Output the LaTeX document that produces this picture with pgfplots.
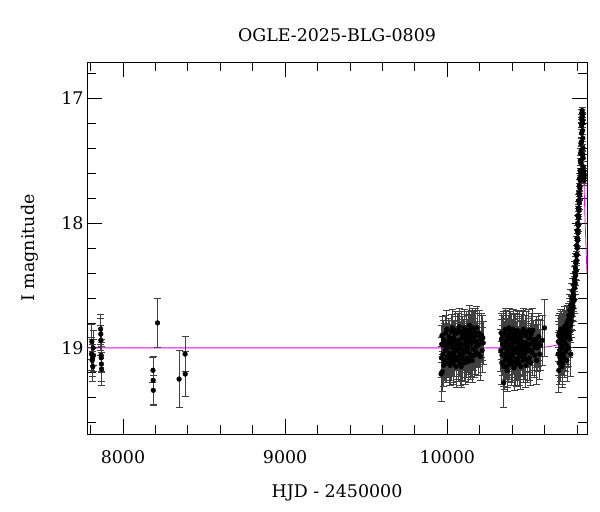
\documentclass[border=0pt]{standalone}
\usepackage{fontspec}
\setmainfont{DejaVu Serif}
\usepackage{pgfplots}
\pgfplotsset{compat=1.18}
\usepackage{pgfplotstable}
\definecolor{model}{RGB}{230,0,230}

\pgfplotstableread{
x y e
7806 19.05 0.13
7808 18.95 0.14
7810 19.10 0.13
7812 19.08 0.15
7814 19.15 0.12
7816 19.00 0.14
7818 19.06 0.13
7862 18.85 0.12
7863 18.89 0.13
7864 18.94 0.12
7865 19.06 0.13
7866 19.08 0.12
7867 19.13 0.14
7868 19.17 0.13
8185 19.18 0.10
8186 19.26 0.19
8187 19.34 0.12
8213 18.80 0.20
8346 19.25 0.23
8383 19.05 0.14
8384 19.21 0.18
}\seasonA

\pgfplotstableread{
x y e
9962 19.21 0.22
9964 19.08 0.16
9966 18.97 0.15
9968 18.90 0.15
9970 19.19 0.16
9973 19.05 0.14
9976 18.93 0.15
9978 19.14 0.17
9980 19.10 0.16
9982 18.95 0.15
9984 18.98 0.14
9986 19.12 0.16
9988 19.02 0.15
9991 18.88 0.14
9993 18.99 0.15
9995 19.12 0.16
9997 18.85 0.15
9999 19.00 0.15
10001 19.07 0.16
10003 18.95 0.14
10006 19.08 0.16
10008 18.97 0.15
10010 18.91 0.15
10012 19.13 0.17
10014 19.04 0.14
10016 18.93 0.15
10018 19.14 0.16
10021 18.96 0.15
10023 19.10 0.16
10025 18.87 0.14
10027 18.97 0.15
10029 19.06 0.16
10031 18.84 0.15
10033 19.00 0.15
10035 19.12 0.17
10037 18.92 0.14
10040 19.11 0.17
10042 18.94 0.15
10044 19.03 0.15
10046 19.07 0.16
10048 18.89 0.14
10050 18.86 0.15
10052 18.98 0.15
10054 19.15 0.17
10056 19.09 0.16
10058 19.00 0.15
10060 18.94 0.15
10062 18.88 0.16
10064 19.02 0.15
10066 19.10 0.17
10068 18.86 0.14
10070 18.95 0.15
10072 19.07 0.16
10074 18.83 0.15
10076 18.99 0.15
10078 19.05 0.16
10080 19.13 0.17
10082 18.97 0.16
10084 18.93 0.14
10086 19.15 0.17
10088 19.01 0.16
10090 18.87 0.16
10092 18.90 0.15
10094 19.09 0.17
10096 19.05 0.15
10098 18.92 0.15
10100 18.97 0.14
10102 19.02 0.16
10104 19.10 0.17
10106 18.84 0.15
10108 18.88 0.15
10110 19.12 0.17
10112 19.02 0.16
10114 18.98 0.16
10116 18.95 0.15
10118 18.87 0.16
10120 19.08 0.16
10122 19.03 0.17
10124 18.91 0.14
10126 18.94 0.15
10128 19.00 0.16
10130 19.11 0.17
10132 18.86 0.15
10134 18.90 0.16
10136 19.04 0.17
10138 18.82 0.16
10140 18.96 0.15
10142 19.08 0.17
10144 18.89 0.16
10146 18.97 0.16
10148 19.06 0.17
10150 18.86 0.16
10152 18.93 0.15
10154 19.10 0.18
10156 18.84 0.16
10158 18.95 0.17
10160 19.01 0.17
10162 18.87 0.17
10165 18.92 0.16
10168 19.06 0.18
10170 18.88 0.17
10172 18.85 0.17
10175 19.03 0.18
10178 18.99 0.17
10180 18.95 0.16
10183 18.84 0.17
10186 18.90 0.18
10189 18.98 0.18
10192 19.05 0.17
10196 18.88 0.18
10200 18.97 0.18
10204 19.07 0.19
10208 18.93 0.19
10212 18.90 0.18
10215 19.02 0.18
10219 18.92 0.18
10222 18.96 0.17
}\seasonB

\pgfplotstableread{
x y e
10330 19.02 0.17
10332 18.88 0.16
10334 18.93 0.16
10337 19.12 0.17
10339 19.05 0.17
10341 18.97 0.15
10343 18.90 0.16
10344 19.06 0.16
10346 19.14 0.17
10348 19.28 0.20
10349 18.88 0.17
10351 19.15 0.18
10353 18.95 0.16
10355 19.00 0.16
10357 19.10 0.17
10358 18.85 0.17
10360 18.98 0.16
10362 19.08 0.17
10364 18.86 0.16
10365 18.94 0.15
10367 19.04 0.17
10369 19.18 0.17
10371 18.92 0.16
10372 19.03 0.16
10374 19.14 0.18
10376 18.90 0.16
10378 18.99 0.16
10379 19.10 0.17
10381 18.84 0.16
10383 18.97 0.15
10385 19.08 0.17
10386 19.05 0.17
10388 18.93 0.16
10390 18.87 0.16
10392 19.01 0.16
10393 19.13 0.17
10395 18.88 0.16
10397 19.00 0.16
10399 19.11 0.17
10400 18.92 0.15
10402 18.97 0.16
10404 19.07 0.17
10406 18.85 0.16
10408 18.96 0.16
10410 19.04 0.17
10412 19.16 0.18
10414 18.93 0.16
10416 18.89 0.16
10418 19.12 0.18
10420 19.02 0.17
10422 18.88 0.16
10424 18.95 0.16
10426 19.00 0.17
10428 19.09 0.17
10430 19.13 0.18
10432 18.86 0.16
10434 18.92 0.16
10436 19.04 0.16
10438 19.08 0.17
10440 18.98 0.15
10442 18.87 0.16
10444 19.12 0.18
10446 19.01 0.17
10448 18.91 0.16
10450 18.95 0.16
10452 19.06 0.17
10454 19.15 0.18
10456 18.94 0.16
10458 18.90 0.17
10460 19.01 0.16
10462 19.04 0.17
10464 18.87 0.17
10466 18.97 0.16
10468 19.10 0.18
10470 18.85 0.17
10472 18.99 0.16
10474 19.08 0.17
10476 19.05 0.17
10478 18.96 0.17
10480 18.90 0.16
10483 19.02 0.17
10485 19.14 0.18
10488 18.88 0.17
10490 18.96 0.17
10493 19.10 0.18
10495 19.03 0.17
10498 18.99 0.17
10500 18.92 0.16
10503 18.86 0.17
10506 19.08 0.18
10509 19.02 0.18
10512 18.97 0.17
10515 19.12 0.18
10518 18.89 0.17
10521 18.93 0.18
10525 19.04 0.18
10528 18.86 0.18
10532 18.95 0.17
10536 19.00 0.18
10540 19.06 0.18
10544 18.97 0.19
10548 18.93 0.18
10552 19.10 0.19
10556 19.00 0.19
10560 18.96 0.19
10565 18.91 0.19
10570 19.05 0.20
10575 18.98 0.20
10586 18.94 0.20
10600 18.84 0.23
}\seasonC

\pgfplotstableread{
x y e
10684 19.05 0.17
10685 18.95 0.16
10687 18.90 0.16
10688 19.18 0.18
10690 19.12 0.17
10691 18.88 0.16
10693 18.96 0.15
10694 19.02 0.16
10696 19.08 0.16
10697 18.92 0.16
10699 18.85 0.16
10700 19.10 0.17
10702 19.00 0.15
10703 18.87 0.16
10705 18.93 0.16
10706 19.05 0.16
10708 19.15 0.17
10709 18.90 0.16
10711 18.98 0.15
10712 19.12 0.17
10714 18.88 0.15
10715 18.94 0.15
10717 19.06 0.16
10718 18.86 0.15
10720 18.95 0.15
10721 19.08 0.16
10723 18.83 0.16
10724 18.96 0.15
10726 19.02 0.16
10727 18.85 0.15
10729 18.90 0.15
10730 19.03 0.16
10732 18.97 0.15
10733 18.82 0.15
10735 18.86 0.15
10736 18.98 0.15
10738 19.10 0.17
10739 18.80 0.14
10741 18.92 0.14
10742 19.00 0.16
10744 18.84 0.14
10745 18.78 0.14
10747 19.00 0.15
10748 18.90 0.15
10750 18.88 0.14
10751 18.74 0.14
10753 18.80 0.14
10754 18.86 0.14
10756 18.93 0.15
10757 18.70 0.13
10759 18.76 0.13
10760 18.82 0.14
10762 19.05 0.18
10763 18.66 0.13
10765 18.79 0.13
10766 18.72 0.13
10768 18.70 0.12
10769 18.60 0.12
10771 18.74 0.12
10772 18.66 0.12
10774 18.64 0.11
10775 18.55 0.11
10777 18.68 0.11
10778 18.60 0.11
10780 18.58 0.10
10781 18.50 0.10
10783 18.62 0.10
10784 18.45 0.10
10786 18.52 0.09
10787 18.40 0.09
10789 18.48 0.09
10790 18.36 0.09
10792 18.42 0.08
10793 18.32 0.08
10795 18.38 0.08
10796 18.26 0.08
10798 18.30 0.07
10799 18.18 0.07
10800 18.25 0.07
10801 18.12 0.07
10802 18.20 0.06
10803 18.06 0.06
10804 18.14 0.06
10805 18.00 0.06
10806 18.08 0.06
10807 17.94 0.06
10808 18.02 0.05
10809 17.88 0.05
10810 17.96 0.05
10811 17.82 0.05
10812 17.90 0.05
10813 17.76 0.05
10814 17.84 0.05
10815 17.70 0.05
10816 17.78 0.04
10817 17.64 0.04
10818 17.72 0.04
10819 17.58 0.04
10820 17.66 0.04
10821 17.50 0.04
10822 17.60 0.04
10823 17.44 0.04
10824 17.52 0.04
10825 17.36 0.04
10826 17.42 0.03
10827 17.35 0.03
10828 17.28 0.03
10829 17.22 0.03
10830 17.16 0.03
10830.5 17.20 0.03
10831 17.12 0.03
10831.5 17.15 0.03
10832 17.10 0.03
10833 17.14 0.03
10833.5 17.18 0.03
10834 17.20 0.03
10835 17.26 0.03
10836 17.32 0.03
10836.5 17.45 0.03
10837 17.40 0.03
10838 17.48 0.03
10839 17.55 0.04
10840 17.58 0.04
10841 17.60 0.04
10842 17.62 0.04
10843 17.66 0.04
10844 17.64 0.04
10845 17.62 0.04
}\seasonD

\pgfplotstableread{
x y
7778 19.000
10500 19.000
10600 18.995
10650 18.985
10700 18.970
}\modelflat

\pgfplotstableread{
x y
10700 18.970
10730 18.940
10750 18.900
10765 18.840
10778 18.720
10788 18.600
10796 18.460
10803 18.300
10810 18.100
10816 17.900
10820 17.750
10824 17.580
10827 17.420
10830 17.240
10832 17.130
10833 17.100
10834 17.110
10836 17.200
10839 17.380
10842 17.580
10846 17.800
10850 17.980
10856 18.200
10862 18.400
}\modelpeak

\pgfplotsset{
  lcpts/.style={only marks, mark=*, mark size=2.4bp, mark options={black, fill=black},
    error bars/.cd, y dir=both, y explicit},
}

\begin{document}
\begin{tikzpicture}
\begin{axis}[
  scale only axis,
  width=500bp, height=372bp,
  xmin=7778, xmax=10862,
  ymin=16.71, ymax=19.69,
  y dir=reverse,
  scaled x ticks=false,
  xtick={8000,9000,10000},
  minor xtick={7800,8200,8400,8600,8800,9200,9400,9600,9800,10200,10400,10600,10800},
  ytick={17,18,19},
  minor ytick={16.8,17.2,17.4,17.6,17.8,18.2,18.4,18.6,18.8,19.2,19.4,19.6},
  tick align=inside,
  major tick length=15bp,
  minor tick length=9bp,
  tick style={black, line width=0.8bp},
  axis line style={line width=0.9bp},
  xticklabel style={/pgf/number format/1000 sep={}, yshift=-13bp},
  /pgf/number format/assume math mode=true,
  tick label style={font=\fontsize{17.5}{21}\selectfont},
  label style={font=\fontsize{17.5}{21}\selectfont},
  title style={font=\fontsize{17.5}{21}\selectfont, at={(0.5,1)}, anchor=south, yshift=11bp},
  title={OGLE-2025-BLG-0809},
  xlabel={HJD - 2450000},
  ylabel={I magnitude},
  xlabel style={yshift=-14bp},
  ylabel style={yshift=16bp},
  error bars/error bar style={black!75, line width=0.8bp},
  error bars/error mark options={rotate=90, mark size=3.5bp, black!75, line width=0.8bp},
]
\coordinate (sw) at (rel axis cs:0,0);
\coordinate (ne) at (rel axis cs:1,1);
\addplot[model, line width=0.8bp] table[x=x,y=y] {\modelflat};
\addplot[lcpts] table[x=x, y=y, y error=e] {\seasonA};
\addplot[lcpts] table[x=x, y=y, y error=e] {\seasonB};
\addplot[lcpts] table[x=x, y=y, y error=e] {\seasonC};
\addplot[lcpts] table[x=x, y=y, y error=e] {\seasonD};
\addplot[model, line width=0.8bp] table[x=x,y=y] {\modelpeak};
\end{axis}
\pgfresetboundingbox
\path ([shift={(-87bp,-78bp)}]sw) rectangle ([shift={(13bp,62bp)}]ne);
\end{tikzpicture}
\end{document}
